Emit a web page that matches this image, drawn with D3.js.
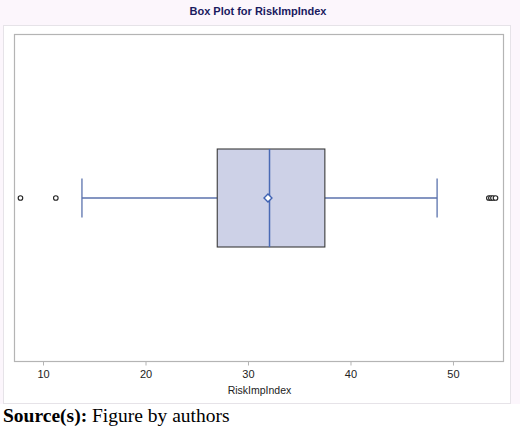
<!DOCTYPE html>
<html>
<head>
<meta charset="utf-8">
<script src="https://cdn.jsdelivr.net/npm/d3@7"></script>
<style>
  body { margin: 0; background: #fff; }
  svg { display: block; }
</style>
</head>
<body>
<svg id="chart" width="520" height="432"></svg>
<script>
// box plot stats
const variable = "RiskImpIndex"
const q1 = 27.0
const median = 32.1
const q3 = 37.5
const mean = 31.95
const whiskerLow = 13.8
const whiskerHigh = 48.45
const outliers = [7.8, 11.25, 53.5, 53.7, 53.9, 54.15]
const ticks = [10, 20, 30, 40, 50]

const svg = d3.select("#chart")

// pale page background and white frame
svg.append("rect").attr("x", 0).attr("y", 0).attr("width", 520).attr("height", 404)
  .attr("fill", "#fcf6fc")
svg.append("rect").attr("x", 3.5).attr("y", 25.5).attr("width", 507).attr("height", 378)
  .attr("fill", "#fff").attr("stroke", "#e6e3e8")

svg.append("text")
  .attr("x", 258).attr("y", 15)
  .attr("text-anchor", "middle")
  .style("font-family", "Arial, 'Liberation Sans', sans-serif")
  .style("font-size", "11px")
  .style("font-weight", "bold")
  .style("fill", "#1a1a60")
  .text("Box Plot for " + variable)

const plot = { left: 14, top: 34, right: 503, bottom: 361 }

let x = d3.scaleLinear()
  .domain([7.17, 54.88])
  .range([plot.left, plot.right])

const cy = 198
const boxH = 98
const capH = 39

svg.append("rect")
  .attr("x", plot.left + 0.5).attr("y", plot.top + 0.5)
  .attr("width", plot.right - plot.left).attr("height", plot.bottom - plot.top)
  .attr("fill", "#fff").attr("stroke", "#b4b4b4").attr("stroke-width", 1.2)

// axis
let axis = svg.append("g")
  .attr("transform", "translate(0," + (plot.bottom + 0.5) + ")")
  .call(d3.axisBottom(x).tickValues(ticks).tickSize(4).tickSizeOuter(0).tickPadding(5))
axis.select(".domain").remove()
axis.selectAll("line").attr("stroke", "#b4b4b4")
axis.selectAll("text")
  .style("font-family", "Arial, 'Liberation Sans', sans-serif")
  .style("font-size", "11px")
  .style("fill", "#222")

svg.append("text")
  .attr("x", x((7.17 + 54.88) / 2) + 1).attr("y", 394)
  .attr("text-anchor", "middle")
  .style("font-family", "Arial, 'Liberation Sans', sans-serif")
  .style("font-size", "10.5px")
  .style("fill", "#222")
  .text(variable)

const blue = "#5b72ad"

// whiskers
svg.append("line").attr("x1", x(whiskerLow)).attr("x2", x(q1)).attr("y1", cy).attr("y2", cy)
  .attr("stroke", blue).attr("stroke-width", 1.3)
svg.append("line").attr("x1", x(q3)).attr("x2", x(whiskerHigh)).attr("y1", cy).attr("y2", cy)
  .attr("stroke", blue).attr("stroke-width", 1.3)
svg.selectAll(".cap").data([whiskerLow, whiskerHigh])
  .enter().append("line")
    .attr("x1", d => x(d)).attr("x2", d => x(d))
    .attr("y1", cy - capH / 2).attr("y2", cy + capH / 2)
    .attr("stroke", blue).attr("stroke-width", 1.3)

// box
svg.append("rect")
  .attr("x", x(q1)).attr("y", cy - boxH / 2)
  .attr("width", x(q3) - x(q1)).attr("height", boxH)
  .attr("fill", "#cdd1e7").attr("stroke", "#3a3a3a").attr("stroke-width", 1.1)

svg.append("line").attr("x1", x(median)).attr("x2", x(median))
  .attr("y1", cy - boxH / 2).attr("y2", cy + boxH / 2)
  .attr("stroke", "#4a6ab5").attr("stroke-width", 1.5)

// mean diamond
svg.append("path")
  .attr("d", d3.symbol(d3.symbolDiamond2, 40)())
  .attr("transform", "translate(" + x(mean) + "," + cy + ")")
  .attr("fill", "#fff").attr("stroke", "#3f62b3").attr("stroke-width", 1.4)

// outliers
svg.selectAll(".out").data(outliers)
  .enter().append("circle")
    .attr("cx", d => x(d)).attr("cy", cy)
    .attr("r", 2.3)
    .attr("fill", "#fff").attr("stroke", "#222").attr("stroke-width", 1.1)

// caption
let cap = svg.append("text")
  .attr("x", 3).attr("y", 422)
  .style("font-family", "'Liberation Serif', 'Times New Roman', serif")
  .style("font-size", "19.5px")
  .style("fill", "#000")
cap.append("tspan").style("font-weight", "bold").text("Source(s):")
cap.append("tspan").text(" Figure by authors")
</script>
</body>
</html>
